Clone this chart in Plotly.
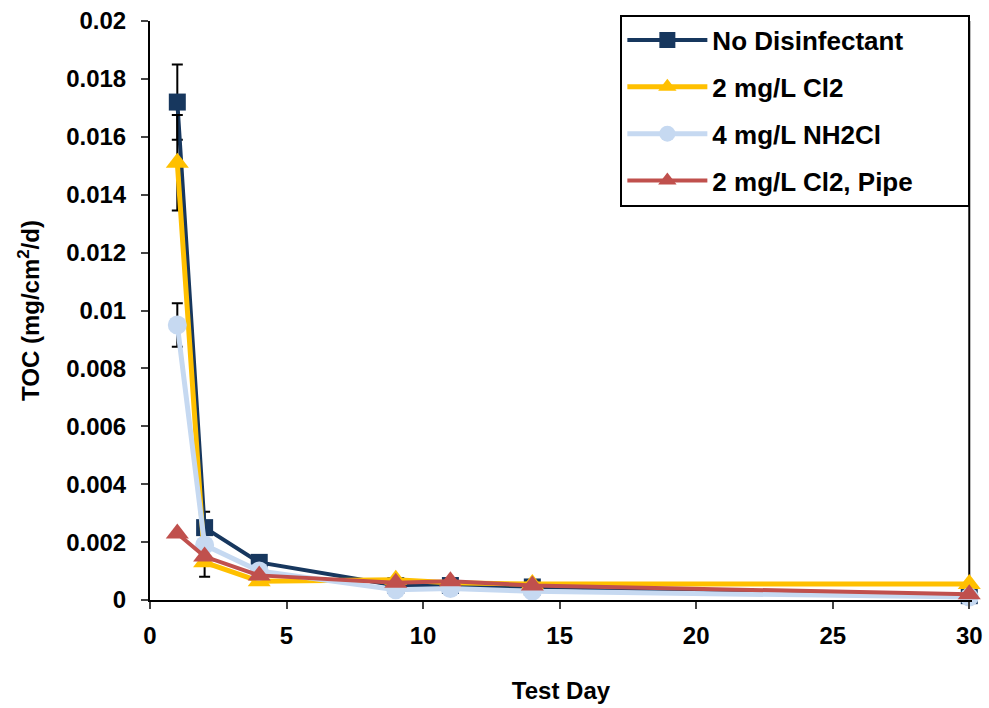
import plotly.graph_objects as go

days = [1, 2, 4, 9, 11, 14, 30]

series_names = ["No Disinfectant", "2 mg/L Cl2", "4 mg/L NH2Cl", "2 mg/L Cl2, Pipe"]

no_dis = [0.0172, 0.0025, 0.0013, 0.0005, 0.0005, 0.00045, 0.00015]
cl2 = [0.0151, 0.0013, 0.00065, 0.0007, 0.0006, 0.00055, 0.00055]
nh2cl = [0.0095, 0.0019, 0.0010, 0.00035, 0.0004, 0.0003, 0.0001]
pipe = [0.0023, 0.0015, 0.00085, 0.0006, 0.00065, 0.0005, 0.0002]

no_dis_err_plus = [0.0013, 0.00055, 0, 0, 0, 0, 0.0199]
no_dis_err_minus = [0.0013, 0.00055, 0, 0, 0, 0, 0.00015]
cl2_err = [0.00165, 0.0005, 0, 0, 0, 0, 0]
nh2cl_err = [0.00075, 0, 0, 0, 0, 0, 0]
pipe_err = [0, 0, 0, 0, 0, 0, 0]

y_ticks = [0, 0.002, 0.004, 0.006, 0.008, 0.01, 0.012, 0.014, 0.016, 0.018, 0.02]
y_tick_text = ["0", "0.002", "0.004", "0.006", "0.008", "0.01", "0.012", "0.014", "0.016", "0.018", "0.02"]
x_ticks = [0, 5, 10, 15, 20, 25, 30]

FONT = "Liberation Sans, Arial, sans-serif"
PAD = "\u00a0" * 7  # right padding inside legend box

styles = [
    dict(color="#17375E", symbol="square", size=17, width=4),
    dict(color="#FFC000", symbol="triangle-up", size=20, width=5),
    dict(color="#C6D9F1", symbol="circle", size=19, width=5),
    dict(color="#C0504D", symbol="triangle-up", size=20, width=4),
]
values = [no_dis, cl2, nh2cl, pipe]
errs = [
    dict(type="data", array=no_dis_err_plus, arrayminus=no_dis_err_minus, symmetric=False),
    dict(type="data", array=cl2_err),
    dict(type="data", array=nh2cl_err),
    dict(type="data", array=pipe_err),
]

fig = go.Figure()
for name, vals, st, er in zip(series_names, values, styles, errs):
    er.update(color="black", thickness=2, width=5.5)
    fig.add_trace(go.Scatter(
        x=days, y=vals, name=name + PAD, mode="lines+markers",
        legendgroup=name,
        line=dict(color=st["color"], width=st["width"]),
        marker=dict(color=st["color"], symbol=st["symbol"], size=st["size"]),
        error_y=er,
        cliponaxis=False,
    ))

fig.update_layout(
    width=989, height=708,
    margin=dict(l=150, r=17, t=21, b=108, autoexpand=False),
    paper_bgcolor="white", plot_bgcolor="white",
    font=dict(family=FONT, size=22, color="black", weight="bold"),
    showlegend=True,
    legend=dict(
        x=0.998, xanchor="right", y=1.011, yanchor="top",
        bgcolor="white", bordercolor="black", borderwidth=2,
        font=dict(family=FONT, size=26, color="black", weight="bold"),
        tracegroupgap=10, itemwidth=80,
    ),
    xaxis=dict(
        range=[0, 30.1], tickvals=x_ticks, ticks="outside", ticklen=7, tickwidth=2,
        showline=True, linecolor="black", linewidth=2, showgrid=False, zeroline=False,
        tickfont=dict(family=FONT, size=24, weight="bold"), ticklabelstandoff=6,
        title=dict(text="Test Day", font=dict(family=FONT, size=24, weight="bold"), standoff=34),
    ),
    yaxis=dict(
        range=[0, 0.02], tickvals=y_ticks, ticktext=y_tick_text, ticks="outside", ticklen=7, tickwidth=2,
        showline=True, linecolor="black", linewidth=2, showgrid=False, zeroline=False,
        tickfont=dict(family=FONT, size=24, weight="bold"), ticklabelstandoff=10,
        title=dict(text="TOC (mg/cm<sup>2</sup>/d)", font=dict(family=FONT, size=24, weight="bold"), standoff=20),
    ),
)

fig.write_html("out.html")
